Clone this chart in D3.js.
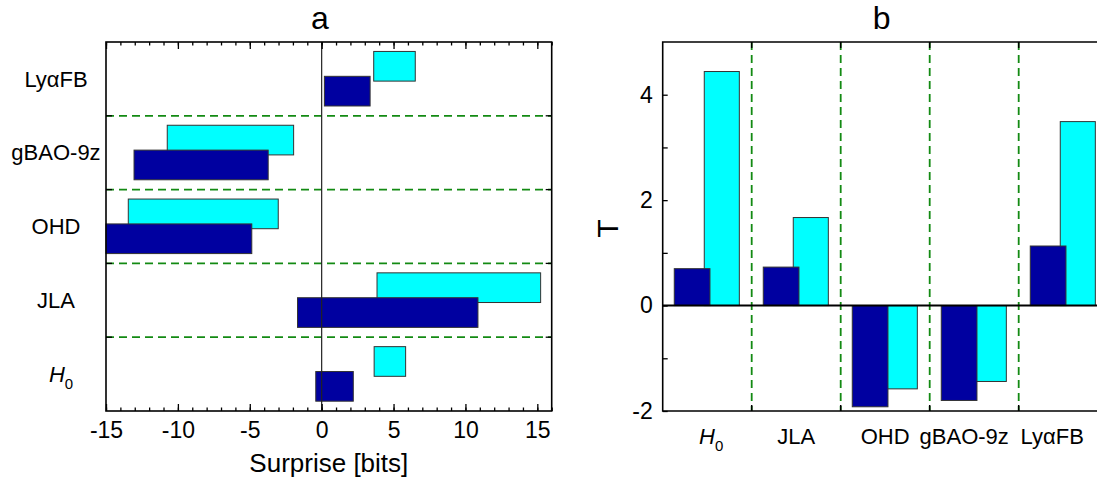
<!DOCTYPE html>
<html>
<head>
<meta charset="utf-8">
<script src="https://cdn.jsdelivr.net/npm/d3@7"></script>
<style>
  html, body { margin: 0; padding: 0; background: #fff; }
  svg { display: block; font-family: "Liberation Sans", Arial, sans-serif; }
</style>
</head>
<body>
<svg id="chart" width="1097" height="484"></svg>
<script>
// ---- data ----
// Panel a: surprise intervals [low, high] in bits, one per probe
const categoriesA = ["LyαFB", "gBAO-9z", "OHD", "JLA", "H0"];
const darkLow   = [0.19, -13.05, -15.0, -1.68, -0.41];
const darkHigh  = [3.37,  -3.72,  -4.86, 10.87,  2.20];
const lightLow  = [3.62, -10.74, -13.45,  3.85,  3.65];
const lightHigh = [6.51,  -1.95,  -3.02, 15.23,  5.84];
const surpriseTicks = [-15, -10, -5, 0, 5, 10, 15];

// Panel b: T statistic per probe
const categoriesB = ["H0", "JLA", "OHD", "gBAO-9z", "LyαFB"];
const darkT  = [0.70, 0.73, -1.92, -1.80, 1.13];
const lightT = [4.44, 1.67, -1.58, -1.44, 3.49];
const tTicks = [-2, 0, 2, 4];

// ---- styling ----
const DARK = "#0000A0", LIGHT = "#00FFFF", GRID = "#138a13";
const TICK_FONT = 23, CAT_FONT = 22;

const svg = d3.select("#chart");

// Label helper: "H0" is drawn as italic H with an upright subscript 0
function writeLabel(sel, name) {
  if (name === "H0") {
    sel.append("tspan").attr("font-style", "italic").text("H");
    sel.append("tspan").attr("font-size", 15).attr("dy", 7).text("0");
  } else {
    sel.text(name);
  }
}

// ================= Panel a =================
const A = { left: 106, right: 551.7, top: 42, bottom: 411 };
const xA = d3.scaleLinear().domain([-15, 16]).range([A.left, A.right]);
const yA = d3.scaleBand().domain(categoriesA).range([A.top, A.bottom]);
const bwA = yA.bandwidth();

const gA = svg.append("g");

// dashed separators between probes
const bandEdgesA = categoriesA.slice(1).map(c => yA(c));
gA.selectAll(".sepA").data(bandEdgesA).join("line")
  .attr("x1", A.left).attr("x2", A.right)
  .attr("y1", d => d).attr("y2", d => d)
  .attr("stroke", GRID).attr("stroke-width", 1.8).attr("stroke-dasharray", "8,5");

const rowsA = categoriesA.map((c, i) => ({
  c, dl: darkLow[i], dh: darkHigh[i], ll: lightLow[i], lh: lightHigh[i]
}));

// light bars (upper in each row), then dark bars on top
gA.selectAll(".lightA").data(rowsA).join("rect")
  .attr("x", d => xA(d.ll)).attr("width", d => xA(d.lh) - xA(d.ll))
  .attr("y", d => yA(d.c) + 0.128 * bwA).attr("height", 0.402 * bwA)
  .attr("fill", LIGHT).attr("stroke", "#333").attr("stroke-width", 1);
gA.selectAll(".darkA").data(rowsA).join("rect")
  .attr("x", d => xA(d.dl)).attr("width", d => xA(d.dh) - xA(d.dl))
  .attr("y", d => yA(d.c) + 0.465 * bwA).attr("height", 0.402 * bwA)
  .attr("fill", DARK).attr("stroke", "#333").attr("stroke-width", 1);

// zero reference line
gA.append("line")
  .attr("x1", xA(0)).attr("x2", xA(0)).attr("y1", A.top).attr("y2", A.bottom)
  .attr("stroke", "#222").attr("stroke-width", 1.2);

// x axes (inward ticks, major every 5, minor every 1)
const minorA = d3.range(-15, 17, 1);
function xAxisA(axisFn, y, labels) {
  const gMin = gA.append("g").attr("transform", `translate(0,${y})`)
    .call(axisFn(xA).tickValues(minorA).tickSize(-3.5).tickFormat(""));
  const gMaj = gA.append("g").attr("transform", `translate(0,${y})`)
    .call(axisFn(xA).tickValues(surpriseTicks).tickSize(-7).tickPadding(11)
      .tickFormat(labels ? (d => String(d)) : ""));
  [gMin, gMaj].forEach(g => {
    g.select(".domain").remove();
    g.selectAll("line").attr("stroke", "#000").attr("stroke-width", 1.3);
    g.selectAll("text").attr("font-size", TICK_FONT).attr("fill", "#000")
      .attr("font-family", "Liberation Sans, Arial, sans-serif");
  });
}
xAxisA(d3.axisBottom, A.bottom, true);
xAxisA(d3.axisTop, A.top, false);

// inward ticks at row boundaries on both sides
gA.selectAll(".ytl").data(bandEdgesA).join("line")
  .attr("x1", A.left).attr("x2", A.left + 6).attr("y1", d => d).attr("y2", d => d)
  .attr("stroke", "#000").attr("stroke-width", 1.3);
gA.selectAll(".ytr").data(bandEdgesA).join("line")
  .attr("x1", A.right - 6).attr("x2", A.right).attr("y1", d => d).attr("y2", d => d)
  .attr("stroke", "#000").attr("stroke-width", 1.3);

// frame
gA.append("rect")
  .attr("x", A.left).attr("y", A.top)
  .attr("width", A.right - A.left).attr("height", A.bottom - A.top)
  .attr("fill", "none").attr("stroke", "#000").attr("stroke-width", 1.6);

// category labels
const nudgeA = { "H0": 5 };
gA.selectAll(".catA").data(categoriesA).join("text")
  .attr("x", d => 56 + (nudgeA[d] || 0)).attr("y", d => yA(d) + bwA / 2).attr("dy", "0.35em")
  .attr("text-anchor", "middle").attr("font-size", CAT_FONT).attr("fill", "#000")
  .each(function (d) { writeLabel(d3.select(this), d); });

// titles
gA.append("text").attr("x", 320).attr("y", 29).attr("text-anchor", "middle")
  .attr("font-size", 32).text("a");
gA.append("text").attr("x", (A.left + A.right) / 2).attr("y", 472)
  .attr("text-anchor", "middle").attr("font-size", 26).text("Surprise [bits]");

// ================= Panel b =================
const B = { left: 662.7, band: 89, top: 42, bottom: 411 };
const xB = d3.scaleBand().domain(categoriesB)
  .range([B.left, B.left + B.band * categoriesB.length]);
const bwB = xB.bandwidth();
const yB = d3.scaleLinear().domain([-2, 5]).range([B.bottom, B.top]);

const gB = svg.append("g");

// dashed separators
const bandEdgesB = categoriesB.slice(1).map(c => xB(c));
gB.selectAll(".sepB").data(bandEdgesB).join("line")
  .attr("x1", d => d).attr("x2", d => d)
  .attr("y1", B.top).attr("y2", B.bottom)
  .attr("stroke", GRID).attr("stroke-width", 1.8).attr("stroke-dasharray", "8,5");

const rowsB = categoriesB.map((c, i) => ({ c, d: darkT[i], l: lightT[i] }));

gB.selectAll(".lightB").data(rowsB).join("rect")
  .attr("x", d => xB(d.c) + 0.467 * bwB).attr("width", 0.394 * bwB)
  .attr("y", d => yB(Math.max(0, d.l))).attr("height", d => Math.abs(yB(d.l) - yB(0)))
  .attr("fill", LIGHT).attr("stroke", "#333").attr("stroke-width", 1);
gB.selectAll(".darkB").data(rowsB).join("rect")
  .attr("x", d => xB(d.c) + 0.130 * bwB).attr("width", 0.401 * bwB)
  .attr("y", d => yB(Math.max(0, d.d))).attr("height", d => Math.abs(yB(d.d) - yB(0)))
  .attr("fill", DARK).attr("stroke", "#333").attr("stroke-width", 1);

// zero line
gB.append("line")
  .attr("x1", B.left).attr("x2", B.left + B.band * categoriesB.length)
  .attr("y1", yB(0)).attr("y2", yB(0))
  .attr("stroke", "#000").attr("stroke-width", 2);

// y axis: labelled majors and unlabelled minors, ticks inward
const gYmin = gB.append("g").attr("transform", `translate(${B.left},0)`)
  .call(d3.axisLeft(yB).tickValues([-1, 1, 3]).tickSize(-5).tickFormat(""));
const gYmaj = gB.append("g").attr("transform", `translate(${B.left},0)`)
  .call(d3.axisLeft(yB).tickValues(tTicks).tickSize(-5).tickPadding(10)
    .tickFormat(d => String(d)));
[gYmin, gYmaj].forEach(g => {
  g.select(".domain").remove();
  g.selectAll("line").attr("stroke", "#000").attr("stroke-width", 1.3);
  g.selectAll("text").attr("font-size", TICK_FONT).attr("fill", "#000")
    .attr("font-family", "Liberation Sans, Arial, sans-serif");
});

// ticks at category boundaries, top and bottom
gB.selectAll(".xtb").data(bandEdgesB).join("line")
  .attr("x1", d => d).attr("x2", d => d).attr("y1", B.bottom).attr("y2", B.bottom - 6)
  .attr("stroke", "#000").attr("stroke-width", 1.5);
gB.selectAll(".xtt").data(bandEdgesB).join("line")
  .attr("x1", d => d).attr("x2", d => d).attr("y1", B.top).attr("y2", B.top + 6)
  .attr("stroke", "#000").attr("stroke-width", 1.5);

// frame
const rightB = B.left + B.band * categoriesB.length;
gB.append("path")
  .attr("d", `M${rightB},${B.top}H${B.left}V${B.bottom}H${rightB}V${B.top}`)
  .attr("fill", "none").attr("stroke", "#000").attr("stroke-width", 1.6);

// category labels (the last two are nudged left to keep them apart)
const nudgeB = { "gBAO-9z": -10, "LyαFB": -11, "H0": 4 };
gB.selectAll(".catB").data(categoriesB).join("text")
  .attr("x", d => xB(d) + bwB / 2 + (nudgeB[d] || 0)).attr("y", 444)
  .attr("text-anchor", "middle").attr("font-size", CAT_FONT).attr("fill", "#000")
  .each(function (d) { writeLabel(d3.select(this), d); });

// axis title and panel title
gB.append("text")
  .attr("transform", `translate(618,${(B.top + B.bottom) / 2 + 2}) rotate(-90)`)
  .attr("text-anchor", "middle").attr("font-size", 30).text("T");
gB.append("text").attr("x", 881.7).attr("y", 29).attr("text-anchor", "middle")
  .attr("font-size", 32).text("b");
</script>
</body>
</html>
